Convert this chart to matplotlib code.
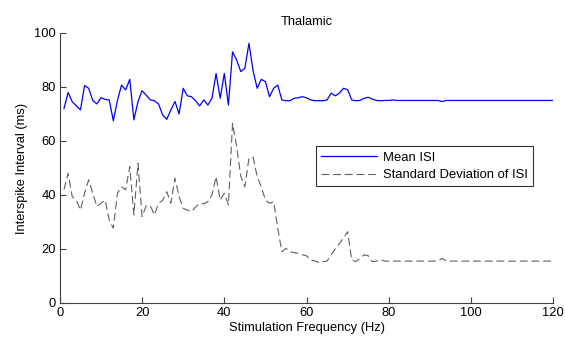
import matplotlib
matplotlib.use("Agg")
import matplotlib.pyplot as plt
import numpy as np

plt.rcParams['font.family'] = ['Liberation Sans', 'DejaVu Sans']

freq = np.arange(1, 121)

mean_isi = [
    72, 78, 74.5, 73, 71.5, 80.5, 79.5, 75, 73.7, 76,
    75.4, 75.2, 67.5, 75, 80.7, 78.9, 82.8, 67.8, 74.6, 78.6,
    77, 75.2, 74.9, 73.7, 69.6, 68, 71.5, 74.6, 70, 79.5,
    76.7, 76.4, 74.9, 73, 75.2, 73.3, 75.8, 85, 75.8, 85,
    73.3, 93, 90, 85.7, 86.9, 96.2, 86, 79.5, 82.8, 82,
    76.4, 79.5, 80.7, 75.2, 74.9, 74.9, 75.8, 76, 76.4, 76,
    75.2, 74.9, 74.9, 74.9, 75.2, 77.7, 76.7, 77.7, 79.5, 79,
    75.2, 74.9, 75, 75.8, 76.2, 75.5, 75, 74.9, 75, 75,
    75.2, 75, 75, 75, 75, 75, 75, 75, 75, 75,
    75, 75, 74.6, 75, 75, 75, 75, 75, 75, 75,
    75, 75, 75, 75, 75, 75, 75, 75, 75, 75,
    75, 75, 75, 75, 75, 75, 75, 75, 75, 75,
]

std_isi = [
    42, 48, 39.4, 38.1, 34.4, 40.6, 45.6, 40.6, 35.7, 36.9,
    38.1, 30.7, 27.7, 40.6, 43, 41.9, 50.5, 32.6, 51.7, 32,
    36, 36, 32.6, 36.9, 38, 41.2, 36.9, 46.2, 39.4, 35,
    34.4, 33.8, 35.5, 36.9, 36.7, 37.5, 40, 46.8, 38.1, 40.6,
    36.3, 66.5, 58, 47, 43, 53.6, 54, 46.8, 43, 38.1,
    36.9, 37.5, 27.7, 19, 20.2, 19, 18.6, 18.4, 17.8, 17.5,
    15.9, 15.6, 15, 15.3, 15.5, 17.8, 20, 22, 24, 26.4,
    15.9, 15.3, 16.5, 17.8, 17.5, 15.3, 15.5, 16, 15.5, 15.5,
    15.5, 15.5, 15.5, 15.5, 15.5, 15.5, 15.5, 15.5, 15.5, 15.5,
    15.5, 15.5, 16.5, 15.5, 15.5, 15.5, 15.5, 15.5, 15.5, 15.5,
    15.5, 15.5, 15.5, 15.5, 15.5, 15.5, 15.5, 15.5, 15.5, 15.5,
    15.5, 15.5, 15.5, 15.5, 15.5, 15.5, 15.5, 15.5, 15.5, 15.5,
]

fig = plt.figure(figsize=(5.65, 3.47), dpi=100)
ax = fig.add_axes([0.106, 0.127, 0.873, 0.778])

ax.plot(freq, mean_isi, color='#0000ff', lw=0.9, label='Mean ISI')
ax.plot(freq, std_isi, color='#606060', lw=0.8, ls=(0, (7, 3.5)),
        label='Standard Deviation of ISI')

ax.set_xlim(0, 120)
ax.set_ylim(0, 100)
ax.set_xticks(np.arange(0, 121, 20))
ax.set_yticks(np.arange(0, 101, 20))

for side in ['top', 'right']:
    ax.spines[side].set_visible(False)
for side in ['left', 'bottom']:
    ax.spines[side].set_color('#404040')
    ax.spines[side].set_linewidth(0.8)
ax.tick_params(direction='in', length=4, width=0.8, color='#404040',
               labelsize=9.3, pad=3)

ax.set_title('Thalamic', fontsize=9.3, pad=6)
ax.set_xlabel('Stimulation Frequency (Hz)', fontsize=9.3, labelpad=2)
ax.set_ylabel('Interspike Interval (ms)', fontsize=9.3, labelpad=4)

leg = ax.legend(loc='upper left', bbox_to_anchor=(0.519, 0.58), fontsize=9.4,
                frameon=True, fancybox=False, borderpad=0.4, handlelength=4.3,
                handletextpad=0.45, labelspacing=0.4, borderaxespad=0)
leg.get_frame().set_edgecolor('black')
leg.get_frame().set_linewidth(0.8)

fig.savefig('out.png', dpi=100)
